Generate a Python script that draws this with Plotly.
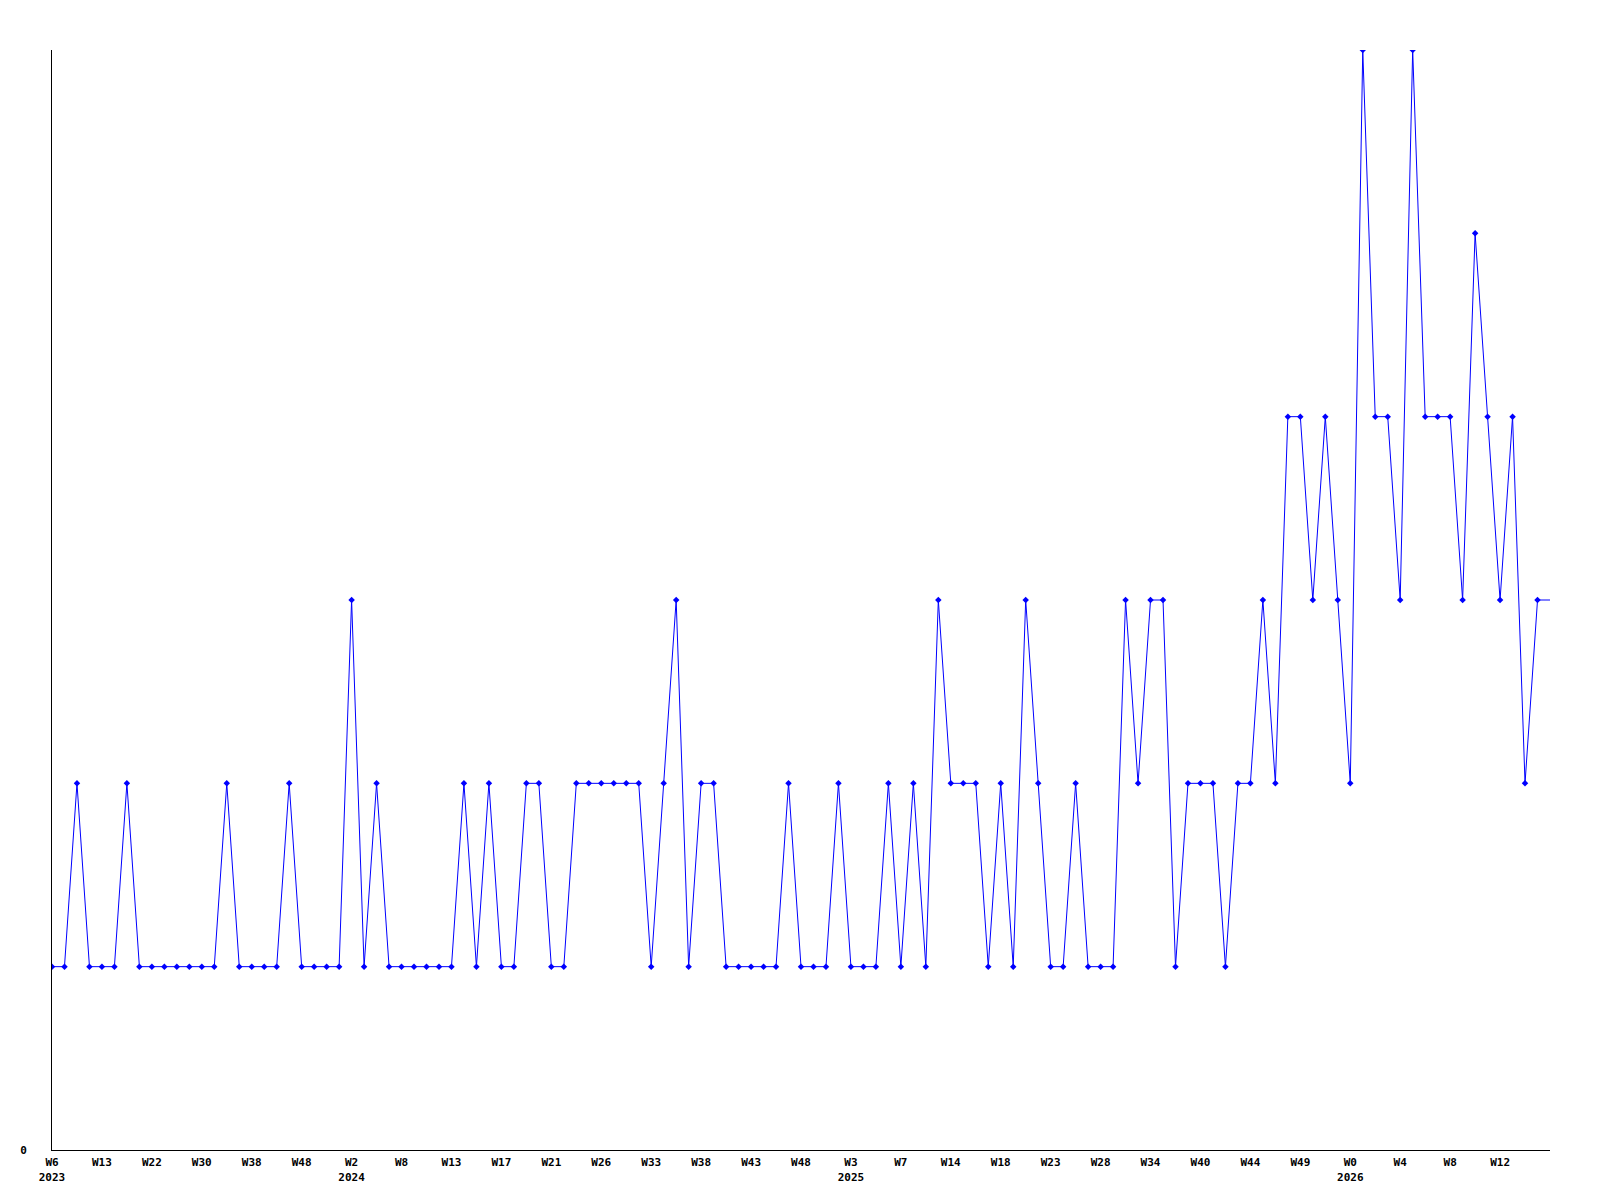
import plotly.graph_objects as go

# one value per period
values = [
    1, 1, 2, 1, 1, 1, 2, 1, 1, 1,
    1, 1, 1, 1, 2, 1, 1, 1, 1, 2,
    1, 1, 1, 1, 3, 1, 2, 1, 1, 1,
    1, 1, 1, 2, 1, 2, 1, 1, 2, 2,
    1, 1, 2, 2, 2, 2, 2, 2, 1, 2,
    3, 1, 2, 2, 1, 1, 1, 1, 1, 2,
    1, 1, 1, 2, 1, 1, 1, 2, 1, 2,
    1, 3, 2, 2, 2, 1, 2, 1, 3, 2,
    1, 1, 2, 1, 1, 1, 3, 2, 3, 3,
    1, 2, 2, 2, 1, 2, 2, 3, 2, 4,
    4, 3, 4, 3, 2, 6, 4, 4, 3, 6,
    4, 4, 4, 3, 5, 4, 3, 4, 2, 3,
]

week_labels = [
    "W6", "W13", "W22", "W30", "W38", "W48",
    "W2", "W8", "W13", "W17", "W21", "W26", "W33", "W38", "W43", "W48",
    "W3", "W7", "W14", "W18", "W23", "W28", "W34", "W40", "W44", "W49",
    "W0", "W4", "W8", "W12",
]
year_labels = {0: "2023", 6: "2024", 16: "2025", 26: "2026"}
label_step = 4

x = list(range(len(values)))
tick_vals = [i * label_step for i in range(len(week_labels))]
tick_text = [
    f"{week}<br>{year_labels[i]}" if i in year_labels else week
    for i, week in enumerate(week_labels)
]

font = {"family": "DejaVu Sans Mono", "size": 11, "color": "#000000", "weight": "bold"}

fig = go.Figure()
fig.add_trace(
    go.Scatter(
        x=x,
        y=values,
        mode="lines+markers",
        line={"color": "#0000ff", "width": 1},
        marker={"symbol": "diamond", "size": 5, "color": "#0000ff"},
        showlegend=False,
    )
)
# current period continues flat to the right edge
fig.add_trace(
    go.Scatter(
        x=[x[-1], len(values)],
        y=[values[-1], values[-1]],
        mode="lines",
        line={"color": "#0000ff", "width": 1},
        showlegend=False,
    )
)

# page body adds 8px, so the margins are trimmed to keep the plot in place
fig.update_layout(
    width=1600,
    height=1200,
    paper_bgcolor="white",
    plot_bgcolor="white",
    margin={"l": 42, "r": 58, "t": 42, "b": 58, "pad": 0},
    showlegend=False,
)
fig.update_xaxes(
    range=[0, len(values)],
    tickmode="array",
    tickvals=tick_vals,
    ticktext=tick_text,
    tickfont=font,
    showgrid=False,
    zeroline=False,
    showline=True,
    linecolor="#000000",
    linewidth=1,
    ticks="",
    ticklabelstandoff=2,
)
fig.update_yaxes(
    range=[0, 6],
    tickmode="array",
    tickvals=[0],
    ticktext=["0"],
    tickfont=font,
    showgrid=False,
    zeroline=False,
    showline=True,
    linecolor="#000000",
    linewidth=1,
    ticks="",
    ticklabelstandoff=22,
)

fig.write_html("out.html")
